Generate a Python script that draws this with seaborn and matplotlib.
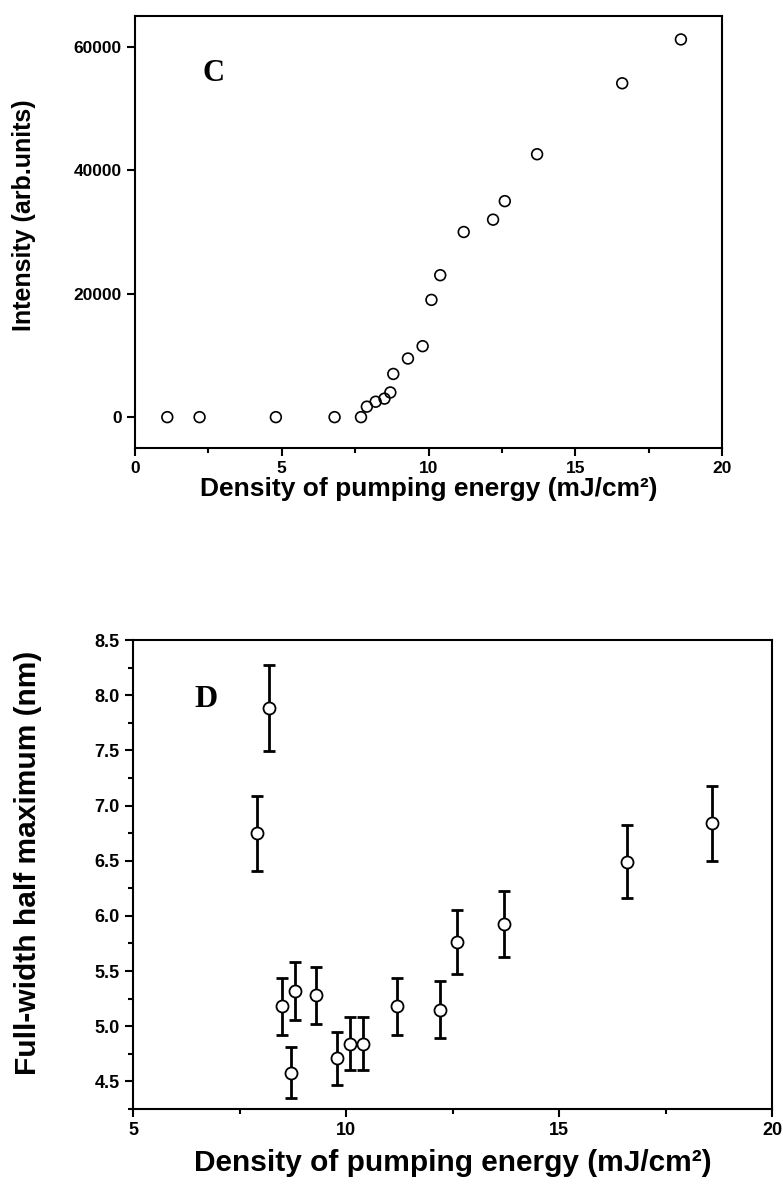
import matplotlib
matplotlib.use("Agg")
import matplotlib.pyplot as plt
from matplotlib.ticker import MultipleLocator, FormatStrFormatter
import seaborn as sns
import pandas as pd

sns.set_theme(style="ticks")
plt.rcParams['font.family'] = ['Liberation Sans', 'DejaVu Sans']
plt.rcParams['text.color'] = 'black'
plt.rcParams['axes.labelcolor'] = 'black'
plt.rcParams['xtick.color'] = 'black'
plt.rcParams['ytick.color'] = 'black'

# panel C: emission intensity vs pump energy density
energy_c = [1.1, 2.2, 4.8, 6.8, 7.7, 7.9, 8.2, 8.5, 8.7, 8.8, 9.3, 9.8,
            10.1, 10.4, 11.2, 12.2, 12.6, 13.7, 16.6, 18.6]
intensity = [0, 0, 0, 0, 0, 1700, 2500, 3000, 4000, 7000, 9500, 11500,
             19000, 23000, 30000, 32000, 35000, 42600, 54100, 61200]

# panel D: linewidth (FWHM) with error bars
energy_d = [7.9, 8.2, 8.5, 8.7, 8.8, 9.3, 9.8, 10.1, 10.4, 11.2,
            12.2, 12.6, 13.7, 16.6, 18.6]
fwhm = [6.75, 7.88, 5.18, 4.58, 5.32, 5.28, 4.71, 4.84, 4.84, 5.18,
        5.15, 5.76, 5.93, 6.49, 6.84]
fwhm_err = [0.34, 0.39, 0.26, 0.23, 0.26, 0.26, 0.24, 0.24, 0.24, 0.26,
            0.26, 0.29, 0.30, 0.33, 0.34]

df_c = pd.DataFrame({"energy": energy_c, "intensity": intensity})
df_d = pd.DataFrame({"energy": energy_d, "fwhm": fwhm, "err": fwhm_err})

fig = plt.figure(figsize=(7.83, 11.9), dpi=100)
ax1 = fig.add_axes([135 / 783, 1 - 448 / 1190, 587 / 783, 432 / 1190])
ax2 = fig.add_axes([133 / 783, 1 - 1109 / 1190, 639 / 783, 469 / 1190])

sns.scatterplot(data=df_c, x="energy", y="intensity", ax=ax1, marker="o",
                s=60, facecolor="none", edgecolor="black", linewidth=1.2)
ax1.set_xlim(0, 20)
ax1.set_ylim(-5000, 65000)
ax1.xaxis.set_major_locator(MultipleLocator(5))
ax1.xaxis.set_minor_locator(MultipleLocator(2.5))
ax1.yaxis.set_major_locator(MultipleLocator(20000))
ax1.set_xlabel("Density of pumping energy (mJ/cm²)", fontsize=19, fontweight="bold")
ax1.set_ylabel("Intensity (arb.units)", fontsize=18, fontweight="bold")
ax1.xaxis.set_label_coords(0.5, -0.068)
ax1.yaxis.set_label_coords(-0.168, 0.54)
ax1.text(0.133, 0.866, "C", transform=ax1.transAxes, fontsize=22, fontweight="bold",
         family="Liberation Serif", ha="center", va="center")

ax2.errorbar(df_d["energy"], df_d["fwhm"], yerr=df_d["err"], fmt="none",
             ecolor="black", elinewidth=2, capsize=4, capthick=2, zorder=2)
sns.scatterplot(data=df_d, x="energy", y="fwhm", ax=ax2, marker="o", s=75,
                facecolor="white", edgecolor="black", linewidth=1.3, zorder=3)
ax2.set_xlim(5, 20)
ax2.set_ylim(4.25, 8.5)
ax2.xaxis.set_major_locator(MultipleLocator(5))
ax2.xaxis.set_minor_locator(MultipleLocator(2.5))
ax2.yaxis.set_major_locator(MultipleLocator(0.5))
ax2.yaxis.set_minor_locator(MultipleLocator(0.25))
ax2.yaxis.set_major_formatter(FormatStrFormatter("%.1f"))
ax2.set_xlabel("Density of pumping energy (mJ/cm²)", fontsize=21.5, fontweight="bold")
ax2.set_ylabel("Full-width half maximum (nm)", fontsize=21.5, fontweight="bold")
ax2.xaxis.set_label_coords(0.5, -0.085)
ax2.yaxis.set_label_coords(-0.142, 0.525)
ax2.text(0.114, 0.874, "D", transform=ax2.transAxes, fontsize=23, fontweight="bold",
         family="Liberation Serif", ha="center", va="center")

for ax in (ax1, ax2):
    for sp in ax.spines.values():
        sp.set_linewidth(1.5)
        sp.set_color("black")
    ax.tick_params(which="major", direction="out", length=6, width=1.5,
                   color="black", labelcolor="black", labelsize=12.5)
    ax.tick_params(which="minor", direction="out", length=3.5, width=1.5, color="black")
    for lab in ax.get_xticklabels() + ax.get_yticklabels():
        lab.set_fontweight("bold")
ax2.tick_params(which="major", labelsize=13)

fig.savefig("out.png", dpi=100)
